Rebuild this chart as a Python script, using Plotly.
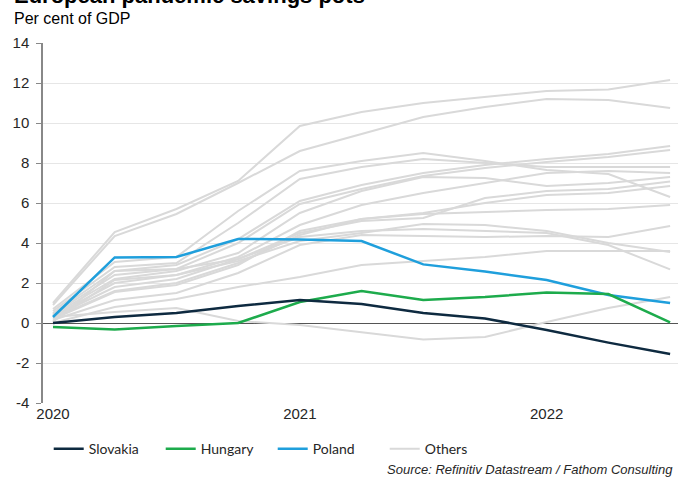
import plotly.graph_objects as go

quarters = ["2020Q1", "2020Q2", "2020Q3", "2020Q4", "2021Q1", "2021Q2", "2021Q3",
            "2021Q4", "2022Q1", "2022Q2", "2022Q3"]

slovakia = [0.0, 0.3, 0.5, 0.85, 1.15, 0.95, 0.5, 0.23, -0.35, -0.98, -1.55]
hungary = [-0.2, -0.32, -0.15, 0.0, 1.05, 1.6, 1.15, 1.3, 1.53, 1.45, 0.03]
poland = [0.3, 3.28, 3.3, 4.2, 4.18, 4.1, 2.93, 2.57, 2.15, 1.4, 1.0]

others = [
    [1.0, 4.55, 5.7, 7.1, 9.85, 10.55, 11.0, 11.3, 11.6, 11.68, 12.15],
    [0.9, 4.35, 5.45, 7.0, 8.6, 9.45, 10.3, 10.8, 11.2, 11.15, 10.75],
    [0.7, 3.05, 3.3, 5.6, 7.6, 8.1, 8.5, 8.1, 7.65, 7.45, 6.3],
    [0.6, 2.8, 3.0, 5.0, 7.2, 7.8, 8.2, 8.0, 7.8, 7.8, 7.8],
    [0.5, 2.6, 2.9, 4.2, 6.1, 6.9, 7.5, 7.9, 8.2, 8.45, 8.85],
    [0.45, 2.4, 2.7, 4.0, 5.95, 6.7, 7.35, 7.75, 8.05, 8.3, 8.65],
    [0.4, 2.2, 2.6, 3.5, 5.5, 6.6, 7.3, 7.25, 6.85, 7.0, 7.3],
    [0.35, 2.0, 2.4, 3.3, 4.9, 5.9, 6.5, 7.0, 7.5, 7.6, 7.5],
    [0.3, 1.8, 2.2, 3.2, 4.5, 5.1, 5.25, 6.25, 6.6, 6.7, 7.07],
    [0.25, 1.6, 2.0, 3.0, 4.4, 5.2, 5.5, 6.0, 6.4, 6.5, 6.85],
    [0.2, 1.55, 1.9, 2.9, 4.6, 5.2, 5.45, 5.55, 5.65, 5.7, 5.9],
    [0.15, 1.15, 1.5, 2.5, 3.9, 4.4, 4.35, 4.3, 4.35, 4.3, 4.85],
    [0.1, 2.15, 2.4, 3.1, 4.1, 4.5, 4.95, 4.9, 4.6, 4.0, 3.55],
    [0.05, 2.6, 2.7, 3.2, 4.3, 4.6, 4.7, 4.6, 4.5, 3.9, 2.68],
    [0.0, 0.8, 1.2, 1.8, 2.3, 2.9, 3.1, 3.3, 3.6, 3.6, 3.6],
    [0.3, 0.55, 0.75, 0.1, -0.1, -0.45, -0.82, -0.7, 0.05, 0.75, 1.3],
]

year_ticks = [2020, 2021, 2022]
y_ticks = [-4, -2, 0, 2, 4, 6, 8, 10, 12, 14]

x = [int(q[:4]) + (int(q[5]) - 1) / 4 for q in quarters]

fig = go.Figure()
for i, s in enumerate(others):
    fig.add_trace(go.Scatter(
        x=x, y=s, mode="lines", name="Others",
        line=dict(color="#d9d9d9", width=2),
        legendgroup="others", showlegend=(i == 0), legendrank=4))

fig.add_trace(go.Scatter(x=x, y=poland, mode="lines", name="Poland",
                         line=dict(color="#1f9fdc", width=2.5), legendrank=3))
fig.add_trace(go.Scatter(x=x, y=hungary, mode="lines", name="Hungary",
                         line=dict(color="#1dab4c", width=2.5), legendrank=2))
fig.add_trace(go.Scatter(x=x, y=slovakia, mode="lines", name="Slovakia",
                         line=dict(color="#0e2a40", width=2.5), legendrank=1))

fig.update_layout(
    width=678, height=479,
    margin=dict(l=43, r=0, t=43, b=76),
    paper_bgcolor="white", plot_bgcolor="white",
    font=dict(family="Liberation Sans, Arial, sans-serif", size=15, color="#262626"),
    showlegend=True,
    legend=dict(orientation="h", x=0.009, y=-0.128, xanchor="left", yanchor="middle",
                entrywidth=67, entrywidthmode="pixels",
                font=dict(family="Lato, sans-serif", size=14, color="#262626"),
                bgcolor="rgba(0,0,0,0)"),
    xaxis=dict(range=[2019.9595, 2022.532], tickvals=year_ticks,
               ticktext=[str(t) for t in year_ticks], showgrid=False,
               zeroline=False, showline=False, ticks=""),
    yaxis=dict(range=[-4, 14], tickvals=y_ticks, ticktext=[str(t) for t in y_ticks],
               showgrid=True, gridcolor="#e6e6e6",
               gridwidth=1, zeroline=True, zerolinecolor="#555555", zerolinewidth=1,
               showline=True, linecolor="#888888", linewidth=1.5,
               ticks="outside", ticklen=5, tickcolor="#888888",
               ticklabelstandoff=4),
    annotations=[
        dict(text="<b>European pandemic savings pots</b>", xref="paper", yref="paper",
             x=-0.0488, y=1.092, xanchor="left", yanchor="bottom", showarrow=False,
             font=dict(family="Liberation Sans, Arial, sans-serif", size=22, color="#000000")),
        dict(text="Per cent of GDP", xref="paper", yref="paper",
             x=-0.0488, y=1.039, xanchor="left", yanchor="bottom", showarrow=False,
             font=dict(family="Liberation Sans, Arial, sans-serif", size=16, color="#000000")),
        dict(text="<i>Source: Refinitiv Datastream / Fathom Consulting</i>", xref="paper",
             yref="paper", x=0.9953, y=-0.186, xanchor="right", yanchor="middle",
             showarrow=False,
             font=dict(family="Liberation Sans, Arial, sans-serif", size=13, color="#262626")),
    ],
)

fig.write_html("out.html")
